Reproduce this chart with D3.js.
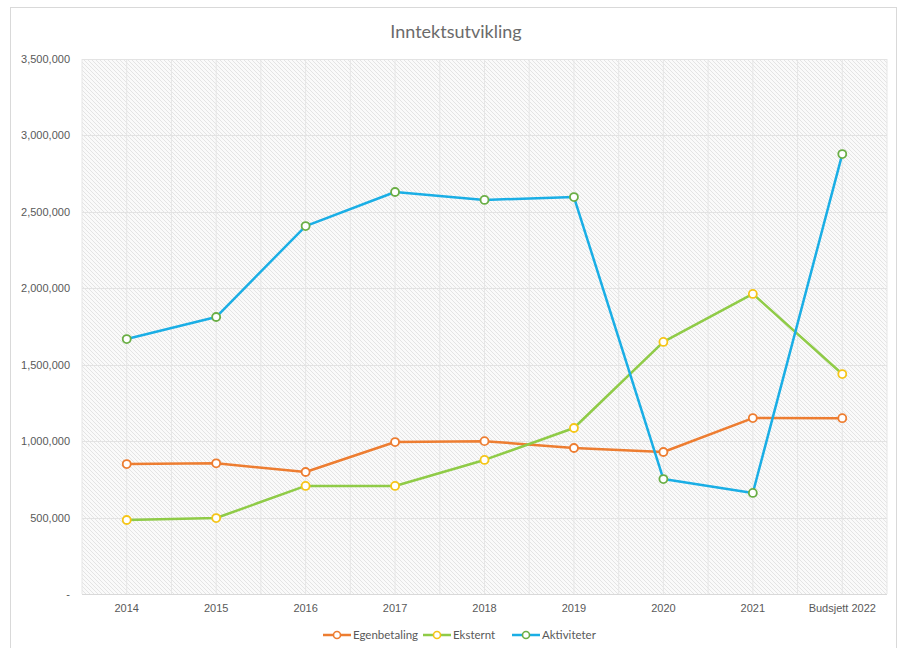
<!DOCTYPE html>
<html><head><meta charset="utf-8">
<script src="https://cdn.jsdelivr.net/npm/d3@7/dist/d3.min.js"></script>
<style>body{margin:0;background:#fff;}svg{display:block;font-family:Lato,"Open Sans",sans-serif;}</style>
</head><body>
<svg id="c" width="898" height="648"></svg>
<script>
const categories = ["2014","2015","2016","2017","2018","2019","2020","2021","Budsjett 2022"];
const egenbetaling = [850000,855000,798000,994000,1000000,955000,929000,1151000,1150000];
const eksternt = [484000,497000,707000,707000,877000,1086000,1649000,1963000,1439000];
const aktiviteter = [1668000,1812000,2407000,2630000,2578000,2597000,752000,661000,2878000];
const yTicks = [0,500000,1000000,1500000,2000000,2500000,3000000,3500000];
const seriesNames = ["Egenbetaling","Eksternt","Aktiviteter"];

const series = [
  {name: seriesNames[0], values: egenbetaling, line: "#ED7D31", marker: "#ED7D31"},
  {name: seriesNames[1], values: eksternt, line: "#8FCB47", marker: "#F5C518"},
  {name: seriesNames[2], values: aktiviteter, line: "#1AAEE5", marker: "#6AAE45"}
];

const svg = d3.select("#c");
const m = {left: 82, right: 887, top: 59, bottom: 594};

svg.append("rect").attr("x",10.5).attr("y",7.5).attr("width",886).attr("height",650)
  .attr("fill","#fff").attr("stroke","#d9d9d9");

const defs = svg.append("defs");
const pat = defs.append("pattern").attr("id","hatch").attr("patternUnits","userSpaceOnUse")
  .attr("width",4).attr("height",4);
pat.append("rect").attr("width",4).attr("height",4).attr("fill","#fafafa");
pat.append("path").attr("d","M-1,-1 L5,5 M-1,3 L1,5 M3,-1 L5,1").attr("stroke","#dedede").attr("stroke-width",0.8);

const x = d3.scaleBand().domain(categories).range([m.left, m.right]);
const y = d3.scaleLinear().domain([0,3500000]).range([m.bottom, m.top]);
const cx = d => x(d) + x.bandwidth()/2;

svg.append("rect").attr("x",m.left).attr("y",m.top).attr("width",m.right-m.left).attr("height",m.bottom-m.top)
  .attr("fill","url(#hatch)");

const vg = [];
categories.forEach(c => { vg.push(x(c)); vg.push(cx(c)); });
vg.push(m.right);
svg.append("g").selectAll("line").data(vg).join("line")
  .attr("x1",d=>d).attr("x2",d=>d).attr("y1",m.top).attr("y2",m.bottom)
  .attr("stroke","#e6e6e6").attr("stroke-width",1);

svg.append("g").selectAll("line").data(yTicks).join("line")
  .attr("x1",m.left).attr("x2",m.right).attr("y1",d=>Math.round(y(d))+0.5).attr("y2",d=>Math.round(y(d))+0.5)
  .attr("stroke",d=>d===0?"#d9d9d9":"#e3e3e3").attr("stroke-width",1);

const fmt = d3.format(",");
const yAxis = d3.axisLeft(y).tickValues(yTicks).tickSize(0).tickPadding(12)
  .tickFormat(d => d===0 ? "-" : fmt(d));
const ya = svg.append("g").attr("transform",`translate(${m.left},0)`).call(yAxis);
ya.select(".domain").remove();
ya.selectAll("text").attr("fill","#595959").attr("font-size",11);

const xAxis = d3.axisBottom(x).tickSize(0).tickPadding(10);
const xa = svg.append("g").attr("transform",`translate(0,${m.bottom})`).call(xAxis);
xa.select(".domain").remove();
xa.selectAll("text").attr("fill","#595959").attr("font-size",11);

const line = d3.line().x((d,i)=>cx(categories[i])).y(d=>y(d));
series.forEach(s => {
  svg.append("path").datum(s.values).attr("d",line).attr("fill","none")
    .attr("stroke",s.line).attr("stroke-width",2.5).attr("stroke-linejoin","round");
});
series.forEach(s => {
  svg.append("g").selectAll("circle").data(s.values).join("circle")
    .attr("cx",(d,i)=>cx(categories[i])).attr("cy",d=>y(d)).attr("r",4)
    .attr("fill","#fff").attr("stroke",s.marker).attr("stroke-width",1.8);
});

svg.append("text").attr("x",456).attr("y",38).attr("text-anchor","middle")
  .attr("font-size",18).attr("fill","#6b6b6b").text("Inntektsutvikling");

const legX = [323, 423, 512];
series.forEach((s,i) => {
  const g = svg.append("g").attr("transform",`translate(${legX[i]},635)`);
  g.append("line").attr("x1",0).attr("x2",28).attr("y1",0).attr("y2",0).attr("stroke",s.line).attr("stroke-width",2.5);
  g.append("circle").attr("cx",14).attr("cy",0).attr("r",3.5).attr("fill","#fff").attr("stroke",s.marker).attr("stroke-width",1.6);
  g.append("text").attr("x",30).attr("y",4).attr("font-size",11.5).attr("fill","#595959").text(s.name);
});
</script>
</body></html>
